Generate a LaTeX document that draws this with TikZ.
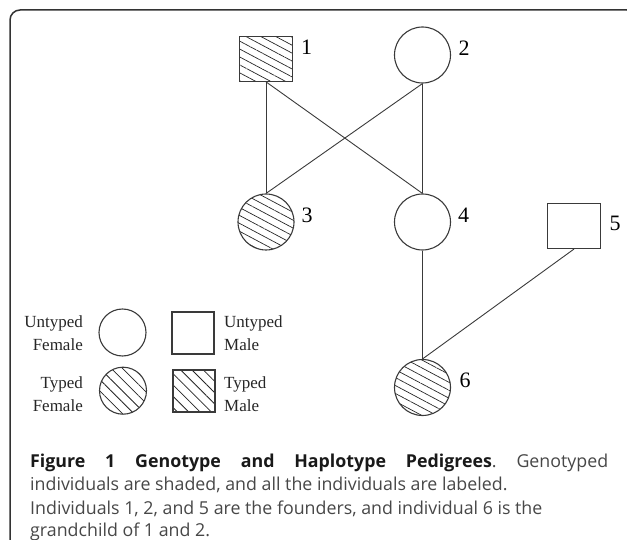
\documentclass[tikz,border=0pt]{standalone}
\usepackage{fontspec}
\setmainfont{Liberation Serif}
\newfontfamily\capfont{Open Sans}
\usetikzlibrary{patterns.meta}
\definecolor{framec}{HTML}{333333}
\definecolor{shapec}{HTML}{3A3A3A}
\definecolor{capc}{HTML}{474747}
\tikzset{
  ind/.style={draw=shapec, line width=1.1pt, inner sep=0pt},
  fem/.style={ind, circle, minimum size=56pt},
  mal/.style={ind, rectangle, minimum width=53pt, minimum height=45pt},
  lfem/.style={ind, circle, minimum size=47pt},
  lmal/.style={ind, rectangle, minimum width=42pt, minimum height=42pt},
  hatchped/.style={pattern={Lines[angle=-28, distance=7pt, line width=0.7pt]}, pattern color=black!85},
  hatchleg/.style={pattern={Lines[angle=-45, distance=8pt, line width=0.8pt]}, pattern color=black!85},
  link/.style={draw=shapec, line width=0.9pt},
  num/.style={font=\fontsize{22}{22}\selectfont, inner sep=0pt},
  leg/.style={font=\fontsize{17}{23}\selectfont, inner sep=0pt, text=black!85},
  captext/.style={font=\capfont\fontsize{17.8}{23.5}\selectfont\frenchspacing, inner sep=0pt, text=capc, anchor=base west},
}
\begin{document}
\begin{tikzpicture}[x=1pt, y=-1pt]
\useasboundingbox (0,0) rectangle (627,540);
\clip (0,0) rectangle (627,540);
\draw[framec, line width=1.5pt, rounded corners=10pt] (10,10) rectangle (637,550);

% pedigree
\node[mal, hatchped] (p1) at (266,59) {};
\node[fem] (p2) at (422.5,55) {};
\node[fem, hatchped] (p3) at (266,222) {};
\node[fem] (p4) at (422.5,222) {};
\node[mal] (p5) at (574,226) {};
\node[fem, hatchped] (p6) at (422.5,387.5) {};

\node[num] (n1) at (306.5,47.5) {1};
\node[num] (n2) at (464,48) {2};
\node[num] (n3) at (307,215) {3};
\node[num] (n4) at (463.5,215) {4};
\node[num] (n5) at (615,223) {5};
\node[num] (n6) at (465,380.5) {6};

\draw[link] (p1.south) -- (p3.north);
\draw[link] (p1.south) -- (p4.north);
\draw[link] (p2.south) -- (p3.north);
\draw[link] (p2.south) -- (p4.north);
\draw[link] (p4.south) -- (p6.north);
\draw[link] (p5.south) -- (p6.north);

% legend
\node[lfem] (uf) at (122.5,332.5) {};
\node[lfem, hatchleg] (tf) at (123,390.7) {};
\node[lmal] (um) at (193,333) {};
\node[lmal, hatchleg] (tm) at (194,391) {};
\node[leg, anchor=east, align=right] (tuf) at (83,333.5) {Untyped\\Female};
\node[leg, anchor=east, align=right] (ttf) at (83,394.5) {Typed\\Female};
\node[leg, anchor=west, align=left] (tum) at (224,333.5) {Untyped\\Male};
\node[leg, anchor=west, align=left] (ttm) at (224,394.5) {Typed\\Male};

% caption
\node[captext] (c1) at (30,467) {\makebox[578pt][s]{\textbf{\color{black!90}Figure 1 Genotype and Haplotype Pedigrees}. Genotyped}};
\node[captext] (c2) at (30,490.5) {individuals are shaded, and all the individuals are labeled.};
\node[captext] (c3) at (30,514) {Individuals 1, 2, and 5 are the founders, and individual 6 is the};
\node[captext] (c4) at (30,536.5) {grandchild of 1 and 2.};
\end{tikzpicture}
\end{document}
